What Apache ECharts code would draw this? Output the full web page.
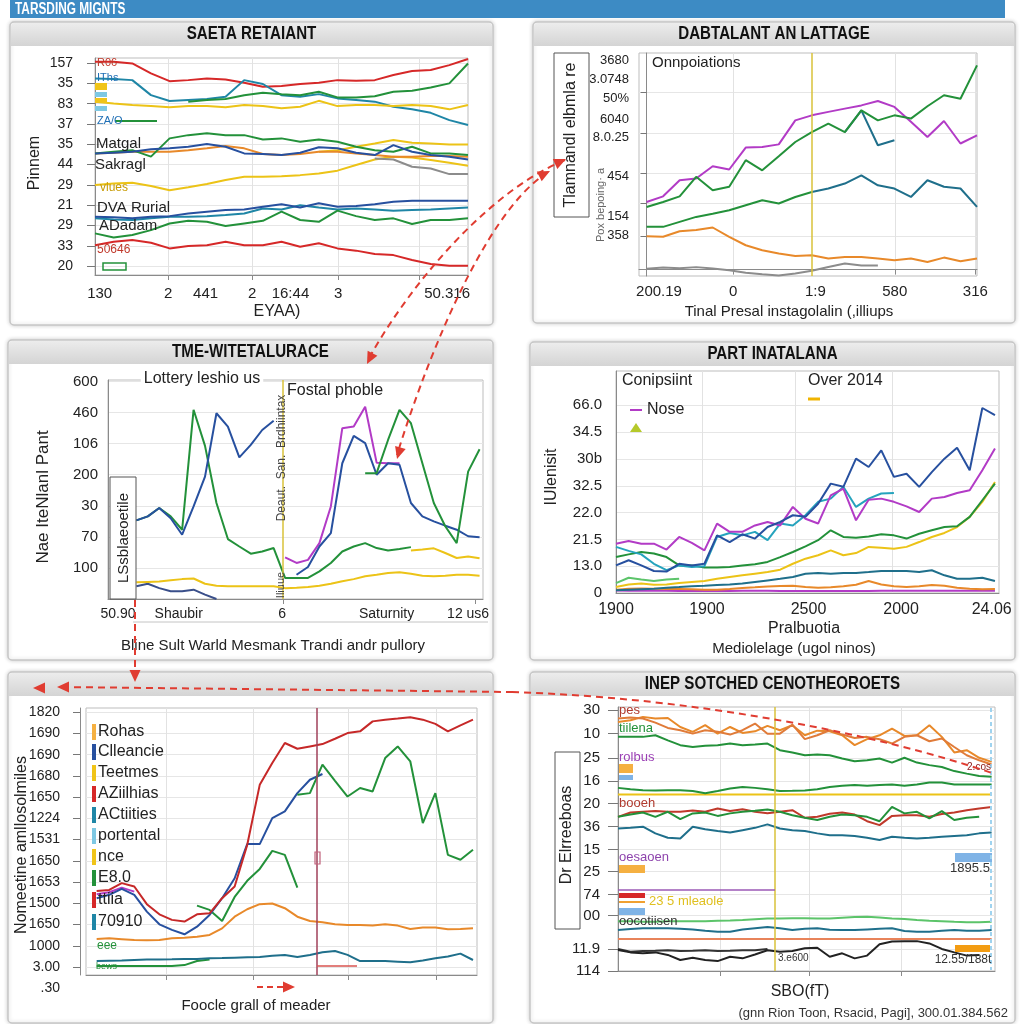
<!DOCTYPE html>
<html><head><meta charset="utf-8">
<script src="https://cdn.jsdelivr.net/npm/echarts@6/dist/echarts.min.js"></script>
<style>html,body{margin:0;padding:0;background:#fff}#c{width:1024px;height:1024px}</style>
</head><body><div id="c"></div>
<script>
// ---------------- DATA ----------------
// Panel 1
const p1XLabels = ['130','2','441','2','16:44','3','50.316'];
const p1XLabelPos = [0.25,3.93,5.93,8.43,10.48,13.04,18.88];
const p1XTickPos = [3.93,8.43,13.04,17.36];
const p1YLabels = ['20','33','29','21','29','44','35','37','83','35','157'];
const p1YPos = [0,10,20,30,40,50,60,70,80,90,100];
const p1Red = [100.7,100.7,99.8,94.9,91.1,91.6,92.4,91.9,90.3,88.3,88.7,89.7,90.3,91.6,91.3,91.6,94.1,96.1,96.6,99.0,102.0];
const p1Teal = [92.4,92.1,91.6,84.2,81.3,81.8,82.3,83.4,91.6,89.7,84.2,83.4,84.7,82.6,81.8,81.0,78.5,77.2,75.5,71.9,69.5];
const p1GreenTop = [null,null,null,null,null,81.0,81.8,82.3,84.2,85.4,84.7,84.2,85.9,83.1,83.1,83.7,85.9,86.4,88.0,90.0,99.8];
const p1YellowTop = [81.0,80.1,79.3,78.8,78.2,78.8,78.8,78.2,79.3,78.8,77.7,78.5,81.4,78.8,79.3,79.3,78.8,79.3,78.8,77.2,79.3];
const p1BlueMid = [55.5,55.8,56.3,57.5,58.0,58.8,60.1,58.8,55.5,55.2,54.7,55.8,58.5,58.0,55.8,54.7,59.6,56.3,54.7,53.9,52.5];
const p1GreenMid = [55.5,56.3,57.1,53.9,62.9,64.5,65.4,64.5,64.5,62.4,62.9,61.2,62.4,61.2,58.8,57.1,56.3,58.8,55.5,55.5,54.7];
const p1OrangeMid = [55.5,55.8,56.3,56.3,56.3,57.1,58.0,59.1,58.0,55.2,54.7,55.2,56.3,56.3,55.5,54.7,53.9,53.9,54.2,54.2,53.9];
const p1Gray = [null,null,null,null,null,null,null,null,null,null,null,null,null,null,null,53.0,52.5,48.9,48.1,45.3,45.3];
const p1YellowLow = [39.9,40.7,41.0,39.4,37.4,38.8,40.4,42.4,44.0,44.0,44.3,44.8,45.6,47.0,49.8,52.5,53.9,53.5,52.2,50.9,49.4];
const p1YellowUp = [null,null,null,null,null,null,null,null,null,null,null,null,56.3,57.1,58.8,60.4,62.1,60.8,60.4,59.9,59.9];
const p1TealLow = [23.5,23.0,22.7,23.5,24.3,24.3,24.6,25.1,25.9,28.4,27.9,30.0,28.9,27.9,28.4,27.9,27.3,27.6,27.9,28.4,28.9];
const p1BlueLow = [24.3,24.0,23.5,24.3,24.6,25.9,26.8,27.6,27.9,29.2,30.5,28.9,30.9,29.2,29.6,30.5,31.7,32.2,32.2,32.2,32.2];
const p1GreenLow = [16.1,14.1,15.3,17.7,21.0,22.3,21.8,19.7,21.0,22.3,26.8,22.7,21.8,27.3,24.6,22.7,23.5,20.7,22.7,22.7,23.5];
const p1RedLow = [10.3,12.0,12.8,11.5,8.7,9.9,10.3,12.0,10.3,10.3,12.0,9.5,11.2,8.7,7.6,5.9,5.4,3.0,1.0,0.2,0.2];

// Panel 2
const p2XLabels = ['200.19','0','1:9','580','316'];
const p2XLabelPos = [0.75,5.24,10.22,15.02,19.9];
const p2XTickPos = [0,5.24,15.06,19.9];
const p2YLabels = ['358','154','454','8.0.25','6040','50%','3.0748','3680'];
const p2YPos = [15.7,24.6,43.1,60.9,69.4,78.9,87.8,96.6];
const p2YTickPos = [15.4,30.5,44.3,63.1,82.0];
const p2Marker = [10.02];
const p2Magenta = [31.2,33.8,41.2,42.0,47.7,46.2,56.3,56.6,57.8,68.9,71.2,72.8,74.3,75.8,77.8,75.1,68.2,61.2,68.6,58.2,62.0];
const p2Green = [28.9,31.2,33.8,42.8,36.6,38.2,50.5,45.8,52.3,58.9,63.5,67.4,63.5,73.5,68.9,71.2,69.7,75.4,80.5,78.9,94.3];
const p2TealUp = [null,null,null,null,null,null,null,null,null,null,null,null,63.5,73.5,57.4,59.7,null,null,null,null,null];
const p2GreenMid = [19.7,19.7,22.0,24.3,25.8,27.4,29.7,32.0,30.5,33.5,35.8,null,null,null,null,null,null,null,null,null,null];
const p2TealMid = [null,null,null,null,null,null,null,null,null,null,35.8,37.4,39.7,43.5,38.9,37.4,33.5,41.2,38.2,37.4,28.9];
const p2Orange = [15.4,15.1,17.7,18.2,19.4,15.1,11.2,8.9,7.4,6.2,6.6,5.1,5.8,5.8,5.1,4.3,5.1,3.5,5.5,3.8,5.1];
const p2Gray = [0.3,0.9,0.6,1.1,0.5,-0.3,-1.5,-2.2,-2.8,-1.8,-0.6,1.2,2.8,1.8,1.8,null,null,null,null,null,null];

// Panel 3
const p3XLabels = ['50.90','Shaubir','6','Saturnity','12 us6'];
const p3XLabelPos = [-1.6,3.7,12.74,21.87,29.0];
const p3XTickPos = [12.8,29.6];
const p3YLabels = ['100','70','30','200','106','460','600'];
const p3YPos = [10,20,30,40,50,60,70];
const p3Marker = [12.83];
const p3Blue = [25.3,26.6,29.3,26.0,20.7,29.8,39.4,59.8,55.5,45.6,49.6,54.4,57.4,null,7.8,10.3,16.9,21.2,43.7,52.5,50.2,40.0,43.7,43.2,30.9,26.6,25.0,23.6,22.3,20.2,19.9];
const p3Green = [25.3,26.6,29.3,26.6,22.3,60.9,49.3,30.9,19.3,16.9,14.6,15.3,16.4,6.8,6.8,6.8,8.9,11.6,15.3,16.9,18.0,16.4,15.6,16.1,16.7,null,null,null,null,null,null];
const p3GreenUp = [null,null,null,null,null,null,null,null,null,null,null,null,null,null,null,null,null,null,null,null,40.5,40.5,51.2,60.9,56.6,43.7,30.9,23.4,18.0,41.0,48.2];
const p3Magenta = [null,null,null,null,null,null,null,null,null,null,null,null,null,13.4,11.6,12.6,18.0,29.8,55.0,55.5,61.9,43.9,43.7,43.7,null,null,null,null,null,null,null];
const p3Yellow = [5.4,5.5,5.6,6.0,6.4,6.6,4.9,4.3,4.1,4.1,4.1,4.1,4.1,3.5,3.6,3.9,4.3,4.9,5.7,6.4,7.3,7.8,8.4,8.6,8.1,7.5,7.3,7.5,7.8,7.8,7.5];
const p3Yellow2 = [null,null,null,null,null,null,null,null,null,null,null,null,null,null,null,null,null,null,null,null,null,null,null,null,15.6,15.9,16.3,14.8,13.2,13.7,13.1];
const p3Navy = [4.1,4.9,3.5,2.5,2.5,3.0,1.4,0,null,null,null,null,null,null,null,null,null,null,null,null,null,null,null,null,null,null,null,null,null,null,null];

// Panel 4
const p4XLabels = ['1900','1900','2500','2000','24.06'];
const p4XLabelPos = [0,7.2,15.24,22.57,29.74];
const p4XTickPos = [6.85,14.18,21.83];
const p4YLabels = ['0','13.0','21.5','22.0','32.5','30b','34.5','66.0'];
const p4YPos = [0,10,20,30,40,50,60,70];
const p4Blue = [10.3,12.2,10.3,8.2,8.0,10.9,10.3,10.9,21.5,19.0,21.9,20.3,24.6,26.5,29.0,28.4,33.3,40.8,39.6,50.1,47.0,53.2,43.3,44.5,39.6,45.1,50.1,54.2,45.8,69.0,66.3];
const p4Cyan = [17.2,15.7,14.4,10.9,8.5,10.3,9.7,10.0,20.9,22.4,21.5,22.8,19.7,25.9,25.2,29.0,34.0,35.2,39.6,32.1,35.2,37.1,37.3,null,null,null,null,null,null,null,null];
const p4Magenta = [18.4,19.4,18.4,18.4,16.2,20.9,18.7,15.9,25.9,22.8,22.8,25.2,26.5,25.2,32.1,27.7,25.9,36.4,38.9,27.1,34.8,35.2,34.0,32.3,30.2,35.2,35.8,37.3,38.3,45.8,53.9];
const p4Green = [13.4,14.4,15.3,14.7,13.4,10.3,10.3,9.5,9.5,9.7,10.3,10.7,11.6,13.4,15.3,17.4,19.7,23.4,20.9,20.6,21.1,21.9,21.5,20.3,22.1,23.4,24.6,24.9,28.4,34.6,40.8];
const p4LightGreen = [3.7,5.7,5.0,4.5,5.0,5.3,null,null,null,null,null,null,null,null,null,null,null,null,null,null,null,null,null,null,null,null,null,null,null,null,null];
const p4Yellow = [2.2,3.2,3.5,3.1,3.2,3.7,4.1,4.5,5.3,6.0,6.6,7.2,7.8,8.7,10.9,12.8,14.1,15.9,14.1,14.9,17.2,16.9,16.5,17.2,19.0,20.9,22.4,24.6,28.4,34.0,41.4];
const p4Teal = [1.0,1.2,1.4,1.6,2.0,2.2,2.5,2.7,3.0,3.2,3.5,4.1,4.7,5.3,6.0,7.2,7.5,7.2,7.5,7.5,7.8,8.2,8.2,8.2,7.8,8.5,6.6,5.3,5.3,5.7,4.5];
const p4Orange = [1.2,1.6,1.7,1.6,1.5,1.5,1.4,1.2,1.2,1.5,1.9,2.1,2.4,2.6,2.7,2.2,2.0,2.1,2.5,3.1,4.5,3.2,2.5,2.2,2.5,3.0,2.7,2.0,1.6,1.4,1.5];
const p4MagentaLow = [0.9,0.8,0.8,0.8,0.8,0.7,0.7,0.7,0.7,0.7,0.8,0.8,0.8,0.7,0.7,0.7,0.7,0.7,0.7,0.7,0.7,0.8,0.8,0.8,0.8,0.8,0.8,0.8,0.8,0.8,0.8];

// Panel 5
const p5YLabels = ['3.00','1000','1650','1500','1653','1650','1531','1224','1650','1680','1690','1690','1820'];
const p5YPos = [0,10,20,30,40,50,60,70,80,90,100,110,120];
const p5XTickPos = [5.57,12.48,20.04,27.08];
const p5Marker = [17.52];
const p5Red = [35.8,36.3,39.5,37.9,29.6,24.8,22.2,21.4,24.8,25.3,32.4,37.9,57.5,85.8,96.1,105.5,102.8,103.9,105.0,107.5,110.2,111.0,115.7,116.5,117.0,117.6,116.5,114.5,111.0,113.8,116.5];
const p5Magenta = [34.3,35.2,37.4,35.5,null,null,null,null,null,null,null,null,null,null,null,null,null,null,null,null,null,null,null,null,null,null,null,null,null,null,null];
const p5Blue = [32.4,34.0,36.8,34.0,26.1,20.1,17.5,15.4,19.0,24.5,32.4,41.8,57.9,57.9,70.1,73.3,81.9,88.2,90.9,null,null,null,null,null,null,null,null,null,null,null,null];
const p5GreenA = [null,null,null,null,null,null,null,null,28.9,26.9,21.7,33.0,40.6,46.2,54.7,52.8,37.4,null,null,null,null,null,null,null,null,null,null,null,null,null,null];
const p5GreenB = [null,null,null,null,null,null,null,null,null,null,null,null,null,null,null,null,81.1,81.9,95.3,87.7,80.3,84.3,82.7,98.4,103.9,96.9,67.8,81.9,52.8,50.5,55.2];
const p5Orange = [13.2,13.5,13.1,12.7,12.6,12.7,13.5,13.8,14.2,15.1,18.2,23.7,27.2,29.6,29.9,27.7,23.7,21.7,21.1,20.1,19.8,19.8,19.5,20.1,19.5,17.9,18.6,18.6,17.8,17.9,18.2];
const p5Teal = [2.8,3.0,3.1,3.3,3.5,3.5,3.6,3.8,3.8,4.1,4.2,4.4,4.6,4.7,5.3,5.7,4.7,5.7,6.9,7.5,5.7,2.8,2.8,2.8,2.5,2.2,3.1,4.1,4.9,6.3,3.3];
const p5GreenLow = [0.5,0.5,0.5,0.5,0.5,0.5,0.5,0.9,2.8,3.5,null,null,null,null,null,null,null,null,null,null,null,null,null,null,null,null,null,null,null,null,null];

// Panel 6
const p6YLabels = ['114','11.9','00','74','25','15','36','20','16','25','10','30'];
const p6YPos = [0,9.6,24.1,33.3,43.2,52.9,62.8,72.9,82.8,92.8,103.3,113.5];
const p6XTickPos = [8.21,15.37,22.78];
const p6Marker = [12.57];
const p6OrangeA = [108.4,109.1,110.6,109.9,110.1,106.2,104.1,107.0,103.3,106.2,103.6,104.3,106.7,104.8,107.0,102.6,104.6,104.3,102.6,98.3,100.9,102.6,105.5,102.3,102.6,107.0,101.9,95.1,96.1,92.8,91.0];
const p6OrangeB = [109.9,110.3,109.9,108.1,105.8,104.8,103.3,104.8,104.1,102.9,104.8,107.7,103.3,103.3,107.2,100.9,102.6,104.8,102.9,101.4,101.9,100.9,99.0,101.9,102.6,100.0,101.2,97.5,93.9,91.7,89.9];
const p6GreenTop = [101.9,101.9,101.9,102.6,100.4,98.3,97.5,98.0,98.3,99.0,98.3,98.6,99.0,96.1,95.1,93.9,94.2,93.9,92.5,91.3,91.7,92.5,90.7,92.8,90.7,89.6,88.8,87.0,85.9,84.9,84.5];
const p6Green2 = [79.7,79.1,78.7,78.6,78.7,78.7,78.3,77.4,78.3,79.4,80.1,79.7,79.1,78.3,78.4,78.6,79.1,80.1,80.6,80.9,80.6,80.9,81.2,80.6,81.2,82.0,82.0,81.2,81.2,81.2,81.2];
const p6Yellow = [76.8,76.8,76.8,76.8,76.8,76.8,76.8,76.8,76.8,76.8,76.8,76.8,76.8,76.8,76.8,76.8,76.8,76.8,76.8,76.8,76.8,76.8,76.8,76.8,76.8,76.8,76.8,76.8,76.8,76.8,76.8];
const p6RedMid = [67.1,69.0,69.3,69.6,69.3,69.3,69.9,69.3,70.7,69.6,70.4,69.3,68.7,69.3,70.0,66.7,67.1,68.4,69.0,68.1,65.2,63.5,67.5,67.8,67.8,67.1,68.3,69.0,70.0,70.7,71.4];
const p6GreenMid = [67.1,68.1,69.0,67.1,69.3,66.1,68.6,69.0,67.5,68.6,69.3,69.7,70.3,69.3,67.8,66.7,65.7,67.1,68.1,67.8,67.1,65.2,71.4,68.6,69.3,66.4,69.6,65.7,66.7,67.1,null];
const p6Blue = [62.0,62.3,62.8,59.9,58.0,57.7,62.8,61.7,60.9,60.3,61.3,62.3,63.8,62.0,61.3,60.9,59.9,59.1,59.1,58.8,58.0,57.0,58.4,58.0,57.7,58.0,58.4,58.8,59.1,59.9,60.3];
const p6LightGreen = [21.7,21.6,21.4,21.4,21.6,21.7,21.7,21.7,21.9,22.0,22.2,22.5,22.8,22.9,23.0,23.0,22.9,22.9,23.2,23.5,23.6,23.3,22.9,22.6,22.2,21.9,21.7,21.4,21.2,21.2,21.4];
const p6Teal = [17.8,18.3,18.6,18.6,18.6,18.4,18.1,17.5,17.1,17.1,18.1,18.6,19.1,18.6,17.8,18.4,18.6,18.0,17.8,17.8,18.1,18.4,18.6,17.4,17.1,17.1,17.5,17.8,17.5,17.5,17.8];
const p6OrangeFlat = [13.9,13.9,13.9,13.9,13.9,13.9,13.9,13.9,13.9,13.9,13.9,13.9,13.9,13.9,13.9,13.9,13.9,13.9,13.9,13.9,13.9,13.9,13.9,13.9,13.9,13.9,13.9,13.9,13.9,13.9,13.9];
const p6Black = [9.1,8.1,7.7,8.1,7.0,4.8,5.8,4.8,4.3,6.2,5.5,7.2,9.0,8.4,8.7,9.9,10.1,6.2,7.7,5.5,6.7,11.6,12.8,13.0,13.0,12.0,9.6,8.1,6.7,7.0,null];
const p6Black2 = [9.6,8.4,8.7,8.8,9.0,8.7,8.8,9.0,8.7,8.8,9.0,9.0,9.6,null,null,null,null,null,null,null,null,null,null,null,null,null,null,null,null,null,null];

// ---------------- BUILD ----------------
const FONT = "'Liberation Sans', Arial, sans-serif";
const C = {red:'#d62828', teal:'#1f86a6', green:'#23913a', yellow:'#ecc317', blue:'#27509f', orange:'#e8892a',
  gray:'#8c8c8c', magenta:'#b23bc6', cyan:'#25a3bd', navy:'#3a4f8a', lgreen:'#5cc46a', black:'#222', purple:'#9b59b6'};

function xy(arr){ return arr.map((v,i)=>[i, v==null ? '-' : v]); }
function lookup(vals, labels){
  return function(val){
    let best=-1, d=1e9;
    vals.forEach((c,i)=>{ const dd=Math.abs(c-val); if(dd<d){d=dd;best=i;} });
    return d<0.02 ? labels[best] : '';
  };
}

const panels = [
  { grid:{left:95, top:58, width:373, height:217},
    x:{min:0, max:20, lv:p1XLabelPos, ll:p1XLabels, tv:p1XTickPos, split:true, tick:true, margin:11, fs:15},
    y:{min:-4.4, max:102.5, lv:p1YPos, ll:p1YLabels, tv:p1YPos, split:true, tick:true, tickLen:8, margin:22, fs:14},
    lines:[[p1Red,C.red],[p1Teal,C.teal],[p1GreenTop,C.green],[p1YellowTop,C.yellow],[p1YellowLow,C.yellow],[p1YellowUp,C.yellow],
      [p1OrangeMid,C.orange],[p1Gray,C.gray],[p1GreenMid,C.green],[p1BlueMid,C.blue],[p1TealLow,C.teal],[p1BlueLow,C.blue],[p1GreenLow,C.green],[p1RedLow,C.red]] },
  { grid:{left:639, top:53, width:338, height:223},
    x:{min:-0.46, max:20, lv:p2XLabelPos, ll:p2XLabels, tv:p2XTickPos, split:true, tick:true, margin:8, fs:15, onZero:true},
    y:{min:-3, max:100, lv:p2YPos, ll:p2YLabels, tv:p2YTickPos, split:true, tick:true, tickLen:6, margin:10, fs:13, onZero:true},
    marker:{vals:p2Marker, color:'#d8c23a'},
    lines:[[p2Orange,C.orange],[p2Gray,C.gray],[p2GreenMid,C.green],[p2TealMid,'#1f6f8b'],[p2TealUp,'#1f6f8b'],[p2Magenta,C.magenta],[p2Green,C.green]] },
  { grid:{left:108, top:380, width:375, height:219},
    x:{min:-2.48, max:30.3, lv:p3XLabelPos, ll:p3XLabels, tv:p3XTickPos, split:false, tick:true, margin:8, fs:14},
    y:{min:0, max:70.5, lv:p3YPos, ll:p3YLabels, tv:p3YPos, split:true, tick:false, margin:10, fs:15},
    marker:{vals:p3Marker, color:'#d8c23a'},
    lines:[[p3Navy,C.navy],[p3Yellow,C.yellow],[p3Yellow2,C.yellow],[p3Magenta,C.magenta],[p3Green,C.green],[p3Blue,C.blue],[p3GreenUp,C.green]] },
  { grid:{left:616, top:371, width:383, height:222},
    x:{min:0, max:30.32, lv:p4XLabelPos, ll:p4XLabels, tv:p4XTickPos, split:true, tick:false, margin:9, fs:16},
    y:{min:0, max:82.8, lv:p4YPos, ll:p4YLabels, tv:p4YPos, split:true, tick:false, margin:14, fs:15},
    lines:[[p4MagentaLow,C.magenta],[p4Orange,C.orange],[p4Teal,'#1f6f8b'],[p4LightGreen,C.lgreen],[p4Yellow,C.yellow],[p4Green,C.green],
      [p4Cyan,C.cyan],[p4Magenta,C.magenta],[p4Blue,C.blue]] },
  { grid:{left:86, top:708, width:391, height:267},
    x:{min:-0.85, max:30.32, lv:[], ll:[], tv:p5XTickPos, split:true, tick:true, margin:8, fs:14},
    y:{min:-3.77, max:122, lv:p5YPos, ll:p5YLabels, tv:p5YPos, split:true, tick:true, tickLen:7, margin:20, fs:14, offset:6},
    marker:{vals:p5Marker, color:'#a0405a'},
    lines:[[p5GreenLow,C.green],[p5Teal,'#1f6f8b'],[p5Orange,C.orange],[p5GreenA,C.green],[p5Magenta,C.magenta],[p5Blue,C.blue],[p5Red,'#c62828'],[p5GreenB,C.green]] },
  { grid:{left:618, top:707, width:377, height:264},
    x:{min:0, max:30.27, lv:[], ll:[], tv:p6XTickPos, split:true, tick:true, margin:8, fs:14},
    y:{min:0, max:114.9, lv:p6YPos, ll:p6YLabels, tv:p6YPos, split:true, tick:true, tickLen:10, margin:18, fs:15},
    marker:{vals:p6Marker, color:'#d8c23a'},
    lines:[[p6Black2,'#333'],[p6Black,C.black],[p6OrangeFlat,'#e8835a'],[p6Teal,'#1f6f8b'],[p6LightGreen,C.lgreen],[p6Blue,'#1f6f8b'],
      [p6Yellow,C.yellow],[p6RedMid,'#c0392b'],[p6GreenMid,C.green],[p6Green2,C.green],[p6GreenTop,C.green],[p6OrangeA,C.orange],[p6OrangeB,'#e07b39']] }
];

const grid=[], xAxis=[], yAxis=[], series=[];
panels.forEach((p,g)=>{
  grid.push(Object.assign({show:true, borderColor:'#bdbdbd', borderWidth:1, backgroundColor:'#fff', containLabel:false}, p.grid));
  xAxis.push({type:'value', gridIndex:g, min:p.x.min, max:p.x.max,
    axisLine:{show:true, onZero:!!p.x.onZero, lineStyle:{color:'#8a8a8a'}},
    axisTick:{show:p.x.tick, customValues:p.x.tv, length:5, lineStyle:{color:'#8a8a8a'}},
    axisLabel:{show:p.x.lv.length>0, customValues:p.x.lv.length?p.x.lv:[p.x.min], formatter:lookup(p.x.lv,p.x.ll), color:'#222', fontSize:p.x.fs, fontFamily:FONT, margin:p.x.margin},
    splitLine:{show:p.x.split, lineStyle:{color:'#e2e2e2'}}});
  yAxis.push({type:'value', gridIndex:g, min:p.y.min, max:p.y.max, offset:p.y.offset||0,
    axisLine:{show:true, onZero:!!p.y.onZero, lineStyle:{color:'#8a8a8a'}},
    axisTick:{show:p.y.tick, customValues:p.y.tv, length:p.y.tickLen||5, lineStyle:{color:'#777'}},
    axisLabel:{show:true, customValues:p.y.lv, formatter:lookup(p.y.lv,p.y.ll), color:'#222', fontSize:p.y.fs, fontFamily:FONT, margin:p.y.margin},
    splitLine:{show:p.y.split, lineStyle:{color:'#e6e6e6'}}});
  p.lines.forEach((l,k)=>{
    const s={type:'line', xAxisIndex:g, yAxisIndex:g, data:xy(l[0]), symbol:'none', silent:true,
      lineStyle:{width:2, color:l[1]}, itemStyle:{color:l[1]}, z:3};
    if(k===0 && p.marker){
      s.markLine={silent:true, symbol:'none', label:{show:false}, lineStyle:{color:p.marker.color, width:1.5, type:'solid'},
        data:p.marker.vals.map(v=>({xAxis:v}))};
    }
    series.push(s);
  });
});

// ---------------- DECORATIONS ----------------
const G=[];
function T(x,y,text,size,opt={}){
  G.push({type:'text', x, y, rotation:opt.rot||0, scaleX:opt.sx||1, z:opt.z||20, silent:true,
    style:{text, font:(opt.bold?'bold ':'')+size+'px '+FONT, fill:opt.color||'#222',
      textAlign:opt.align||'left', align:opt.align||'left', textVerticalAlign:'middle', verticalAlign:'middle',
      backgroundColor:opt.bg, padding:opt.bg?[0,3]:0}});
}
function R(x,y,w,h,style,z,r){ G.push({type:'rect', z:z==null?15:z, silent:true, shape:{x,y,width:w,height:h,r:r||0}, style}); }
function L(x1,y1,x2,y2,color,w,dash,z){ G.push({type:'line', z:z||15, silent:true, shape:{x1,y1,x2,y2}, style:{stroke:color, lineWidth:w||1.5, lineDash:dash||null}}); }
function head(tx,ty,ang,color){
  const Ln=12, W=5.5, bx=tx-Ln*Math.cos(ang), by=ty-Ln*Math.sin(ang);
  const nx=-Math.sin(ang), ny=Math.cos(ang);
  G.push({type:'polygon', z:30, silent:true, shape:{points:[[tx,ty],[bx+W*nx,by+W*ny],[bx-W*nx,by-W*ny]]}, style:{fill:color}});
}
const RED='#e03c31';

// header
R(10,0,995,18,{fill:'#3d8bc4'},-5);
T(15,9.5,'TARSDING MIGNTS',16,{bold:true,color:'#fff',sx:0.74});

// panel frames
const boxes=[[10,22,483,303,'SAETA RETAIANT'],[533,22,482,301,'DABTALANT AN LATTAGE'],[8,340,485,320,'TME-WITETALURACE'],
  [530,342,485,318,'PART INATALANA'],[8,672,485,351,''],[530,672,485,351,'INEP SOTCHED CENOTHEOROETS']];
boxes.forEach(b=>{
  R(b[0],b[1],b[2],b[3],{fill:'#fff',stroke:'#c6c6c6',lineWidth:1.5,shadowBlur:4,shadowColor:'rgba(0,0,0,0.18)'},-10,4);
  G.push({type:'rect', z:-9, silent:true, shape:{x:b[0]+1,y:b[1]+1,width:b[2]-2,height:23,r:[4,4,0,0]},
    style:{fill:{type:'linear',x:0,y:0,x2:0,y2:1,colorStops:[{offset:0,color:'#ececec'},{offset:1,color:'#d4d4d4'}]}}});
  if(b[4]) T(b[0]+b[2]/2, b[1]+12.5, b[4], 18, {bold:true, align:'center', color:'#111', sx:0.84});
});

// Panel 1 annotations
T(97,63,'R06',11,{color:'#c0392b'});
T(97,78,'IThs',11,{color:'#1f6fb5'});
R(95,83,12,7,{fill:'#f0c419'}); R(95,92,12,5,{fill:'#7ec8e3'}); R(95,98,12,5,{fill:'#f0c419'}); R(95,106,12,5,{fill:'#7ec8e3'});
T(97,121,'ZA/O',11,{color:'#1f6fb5'}); L(115,121,157,121,C.green,2);
T(96,144,'Matgal',15); T(95,165,'Sakragl',15);
T(100,188,'vlues',12,{color:'#c79a00'});
T(97,208,'DVA Rurial',15); T(99,226,'ADadam',15);
T(97,250,'50646',12,{color:'#c0392b'});
R(103,263,23,7,{fill:'none',stroke:C.green,lineWidth:1.5});
T(35,163,'Pinnem',16,{align:'center',rot:Math.PI/2});
T(277,312,'EYAA)',16,{align:'center'});

// Panel 2 annotations
T(652,63,'Onnpoiations',15);
R(554,53,35,164,{fill:'#fff',stroke:'#555',lineWidth:1},12);
T(571,135,'Tlamnandl elbmla re',16,{align:'center',rot:Math.PI/2});
T(601,205,'Pox bepoing\u00b7 a',11,{align:'center',rot:Math.PI/2,color:'#666'});
T(789,312,'Tinal Presal instagolalin (,illiups',15,{align:'center'});

// Panel 3 annotations
T(202,379,'Lottery leshio us',16,{align:'center',bg:'#fff'});
T(287,391,'Fostal phoble',16);
T(43,497,'Nae IteNlanl Pant',17,{align:'center',rot:Math.PI/2});
R(110,477,26,122,{fill:'#fff',stroke:'#555',lineWidth:1});
T(124,538,'LSsblaeoetile',15,{align:'center',rot:Math.PI/2});
T(282,458,'Deaut.  San.  Brdhiintax',12,{align:'center',rot:Math.PI/2,color:'#444'});
T(281,585,'Iliuue',11,{align:'center',rot:Math.PI/2,color:'#444'});
L(133,622,488,622,'#c4c4c4',1);
T(273,646,'Bline Sult Warld Mesmank Trandi andr pullory',15,{align:'center'});

// Panel 4 annotations
T(622,381,'Conipsiint',16); T(808,381,'Over 2014',16);
L(808,399,820,399,'#f0b400',3); L(630,410,642,410,C.magenta,2);
T(647,410,'Nose',16);
G.push({type:'polygon', z:20, silent:true, shape:{points:[[636,423],[630,432],[642,432]]}, style:{fill:'#b5c92a'}});
T(552,477,'IUlenisit',16,{align:'center',rot:Math.PI/2});
T(804,629,'Pralbuotia',16,{align:'center'});
T(794,649,'Mediolelage (ugol ninos)',15,{align:'center'});

// Panel 5 annotations
const p5Leg=[['Rohas',732],['Clleancie',752],['Teetmes',773],['AZiilhias',794],['ACtiities',815],['portental',836],['nce',857],['E8.0',878],['ttiia',900],['70910',922]];
const chipCols=['#f5b041','#27509f','#f0c419','#d62828','#1f86a6','#7ec8e3','#f0c419','#23913a','#d62828','#1f86a6'];
p5Leg.forEach((l,i)=>{ T(98,l[1],l[0],16); R(92,l[1]-8,4,16,{fill:chipCols[i]}); });
T(97,946,'eee',12,{color:C.green}); T(96,967,'bews',9,{color:C.green});
T(22,845,'Nomeetine amllosolmiles',16,{align:'center',rot:Math.PI/2});
T(60,988,'.30',14,{align:'right'});
T(256,1006,'Foocle grall of meader',15,{align:'center'});
R(315,852,5,12,{fill:'none',stroke:'#c0607a',lineWidth:1.2});
L(317,966,357,966,'#d9534f',1.5);

// Panel 6 annotations
T(619,710,'pes',13,{color:'#b03a2e'});
T(619,728,'tiilena',13,{color:C.green});
T(619,757,'rolbus',13,{color:'#9b3fb5'});
R(619,764,14,9,{fill:'#f5b041'}); R(619,775,14,5,{fill:'#7fb3e6'});
T(619,803,'booeh',13,{color:'#b03a2e'});
T(619,857,'oesaoen',13,{color:'#8e44ad'});
R(619,865,26,8,{fill:'#f5b041'});
L(618,890,775,890,C.purple,1.5);
R(619,893,26,5,{fill:'#d62828'});
L(619,902,645,902,'#f0a030',2);
T(649,901,'23 5 mleaole',13,{color:'#e0c020'});
R(619,908,26,7,{fill:'#7fb3e6'});
T(619,921,'oocotiisen',13,{color:'#333'});
T(778,958,'3.e600',10,{color:'#333'});
T(963,960,'12.55/188t',12,{align:'center',color:'#333'});
R(955,853,37,9,{fill:'#7fb3e6'});
T(970,868,'1895.5',13,{align:'center',color:'#333'});
R(955,945,35,7,{fill:'#f39c12'});
T(979,767,'2.cos',10,{align:'center',color:'#8b1a1a'});
L(991,708,991,970,'#9fd3ef',2,[4,3]);
R(555,752,25,177,{fill:'#fff',stroke:'#555',lineWidth:1});
T(567,835,'Dr Elrreeboas',16,{align:'center',rot:Math.PI/2});
T(800,992,'SBO(fT)',16,{align:'center'});
T(1008,1013,'(gnn Rion Toon, Rsacid, Pagi], 300.01.384.562',13,{align:'right',color:'#333'});

// red dashed arrows
const dash=[7,5];
G.push({type:'bezierCurve', z:28, silent:true, shape:{x1:565,y1:160,x2:367,y2:362,cpx1:480,cpy1:195,cpx2:400,cpy2:300}, style:{stroke:RED,lineWidth:2,lineDash:dash,fill:null}});
G.push({type:'bezierCurve', z:28, silent:true, shape:{x1:548,y1:172,x2:397,y2:455,cpx1:480,cpy1:215,cpx2:420,cpy2:380}, style:{stroke:RED,lineWidth:2,lineDash:dash,fill:null}});
head(367,364,Math.atan2(64,-33),RED); head(397,459,Math.atan2(78,-23),RED);
head(566,159,Math.atan2(-35,77),RED); head(550,171,Math.atan2(-38,77),RED);
L(135,600,135,674,RED,2,dash,28); head(135,682,Math.PI/2,RED);
L(62,687,512,692,RED,2,dash,28);
G.push({type:'bezierCurve', z:28, silent:true, shape:{x1:512,y1:692,x2:992,y2:773,cpx1:700,cpy1:698,cpx2:880,cpy2:735}, style:{stroke:RED,lineWidth:2,lineDash:dash,fill:null}});
head(33,688,Math.PI,RED); head(57,687,Math.PI,RED);
L(257,987,286,987,RED,2,[6,4],28); head(295,987,0,RED);

const chart = echarts.init(document.getElementById('c'), null, {renderer:'canvas'});
chart.setOption({animation:false, backgroundColor:'#fff', grid, xAxis, yAxis, series, graphic:{elements:G}});
</script></body></html>
